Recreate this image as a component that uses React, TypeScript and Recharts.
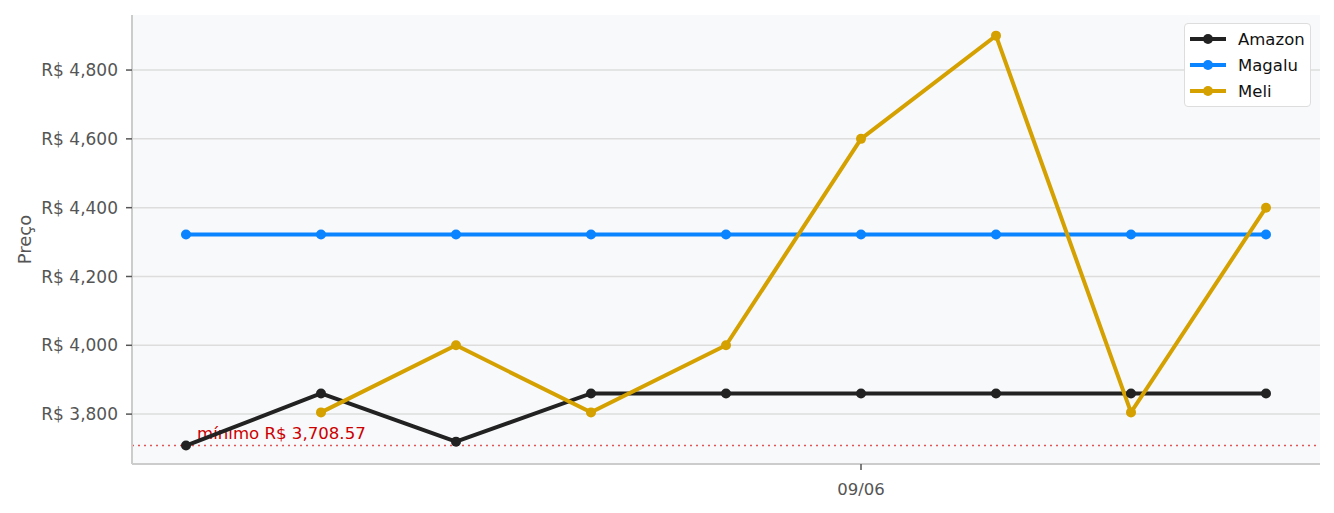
import React from 'react'
import {
  CartesianGrid,
  Line,
  LineChart,
  ReferenceLine,
  XAxis,
  YAxis,
} from 'recharts'

// preços por coleta (9 coletas), índice 5 = 09/06
const slots = [0, 1, 2, 3, 4, 5, 6, 7, 8]
const amazon = [3708.57, 3860, 3720, 3860, 3860, 3860, 3860, 3860, 3860]
const magalu = [4322, 4322, 4322, 4322, 4322, 4322, 4322, 4322, 4322]
const meli = [null, 3805, 4000, 3805, 4000, 4600, 4900, 3805, 4400]
const yTicks = [3800, 4000, 4200, 4400, 4600, 4800]
const xTicks = [5]
const xTickLabels: Record<number, string> = { 5: '09/06' }
const minimo = 3708.57

const series = [
  { key: 'amazon', name: 'Amazon', color: '#222222' },
  { key: 'magalu', name: 'Magalu', color: '#0a84ff' },
  { key: 'meli', name: 'Meli', color: '#d4a100' },
]

const rows = slots.map((i) => ({
  i,
  amazon: amazon[i],
  magalu: magalu[i],
  meli: meli[i],
}))

const FONT = '"DejaVu Sans", sans-serif'

const brl = (v: number) => 'R$ ' + v.toLocaleString('en-US')

function LegendBox() {
  return (
    <div
      style={{
        position: 'absolute',
        left: 1184,
        top: 23,
        boxSizing: 'border-box',
        width: 127,
        height: 84,
        background: '#ffffff',
        border: '1.5px solid #dddddd',
        borderRadius: 4,
        padding: '2px 4px',
        fontFamily: FONT,
        fontSize: 16.5,
        color: '#111',
      }}
    >
      {series.map((s) => (
        <div key={s.key} style={{ display: 'flex', alignItems: 'center', height: 26 }}>
          <svg width={38} height={12} style={{ marginRight: 11 }}>
            <line x1={1} y1={6} x2={37} y2={6} stroke={s.color} strokeWidth={4} />
            <circle cx={19} cy={6} r={5} fill={s.color} />
          </svg>
          {s.name}
        </div>
      ))}
    </div>
  )
}

export default function App() {
  return (
    <div style={{ position: 'absolute', left: 0, top: 0, width: 1334, height: 513, background: '#fff' }}>
      <LineChart
        width={1334}
        height={513}
        data={rows}
        margin={{ top: 15, right: 14, bottom: 0, left: 0 }}
        style={{ fontFamily: FONT }}
      >
        <CartesianGrid
          vertical={false}
          stroke="#dddddd"
          strokeWidth={1.5}
          fill="#f8f9fa"
          syncWithTicks
        />
        <XAxis
          dataKey="i"
          type="number"
          domain={[-0.4, 8.4]}
          ticks={xTicks}
          tickFormatter={(v: number) => xTickLabels[v] ?? ''}
          height={49}
          axisLine={{ stroke: '#cccccc', strokeWidth: 2 }}
          tickLine={{ stroke: '#555555', strokeWidth: 1.5 }}
          tickSize={6}
          tickMargin={13}
          tick={{ fill: '#555555', fontSize: 16.5 }}
          allowDataOverflow
        />
        <YAxis
          type="number"
          domain={[3655, 4960]}
          ticks={yTicks}
          tickFormatter={brl}
          width={132}
          axisLine={{ stroke: '#cccccc', strokeWidth: 2 }}
          tickLine={{ stroke: '#555555', strokeWidth: 1.5 }}
          tickSize={6}
          tickMargin={8}
          tick={{ fill: '#555555', fontSize: 17 }}
          allowDataOverflow
          label={{
            value: 'Preço',
            angle: -90,
            position: 'insideLeft',
            offset: 25,
            style: { fill: '#555555', fontSize: 18, textAnchor: 'middle' },
          }}
        />
        <ReferenceLine
          y={minimo}
          stroke="#e05555"
          strokeWidth={1.5}
          strokeDasharray="2 4"
          label={(props: any) => {
            const vb = props.viewBox || {}
            return (
              <text x={vb.x + 65} y={vb.y - 7} fill="#cc0000" fontSize={16.6} fontFamily={FONT}>
                {'mínimo ' + brl(minimo)}
              </text>
            )
          }}
        />
        {series.map((s) => (
          <Line
            key={s.key}
            dataKey={s.key}
            name={s.name}
            type="linear"
            stroke={s.color}
            strokeWidth={4}
            dot={{ r: 5, fill: s.color, stroke: s.color, strokeWidth: 0 }}
            activeDot={false}
            isAnimationActive={false}
          />
        ))}
      </LineChart>
      <LegendBox />
    </div>
  )
}
